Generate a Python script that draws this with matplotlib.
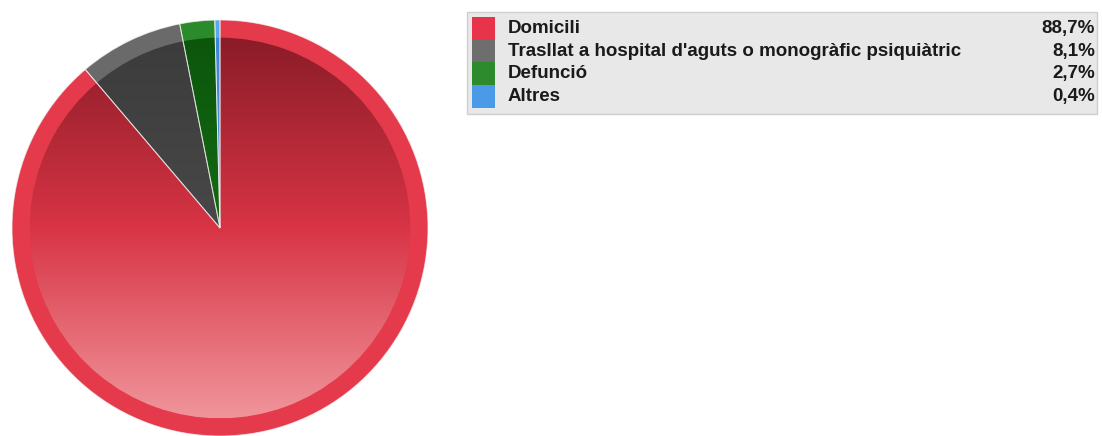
import numpy as np
import matplotlib.pyplot as plt
from matplotlib.patches import Wedge, Rectangle
from matplotlib.colors import LinearSegmentedColormap

# Data
labels = ['Domicili',
          "Trasllat a hospital d'aguts o monogràfic psiquiàtric",
          'Defunció',
          'Altres']
values = [88.7, 8.1, 2.7, 0.4]
pct_labels = ['88,7%', '8,1%', '2,7%', '0,4%']

# Colours: flat rim colour and inner gradient (top -> bottom)
rim_colors = ['#e43a4b', '#6a6a6a', '#2b8a2b', '#5aa8f0']
grad_colors = [['#8a1c28', '#d83445', '#f0959b'],
               ['#3c3c3c', '#484848', '#5c5c5c'],
               ['#0c560c', '#146a14', '#1f7f1f'],
               ['#3f86d8', '#4a96e4', '#60aaf0']]
legend_colors = ['#e8344a', '#6e6e6e', '#2d8a2d', '#4a9ae8']

W, H = 1102, 436
fig = plt.figure(figsize=(W / 100, H / 100), dpi=100)

# Pie (outer rim in flat colours)
cx, cy, R = 220, 228, 208
ax = fig.add_axes([(cx - R) / W, (H - cy - R) / H, 2 * R / W, 2 * R / H])
wedges, _ = ax.pie(values, colors=rim_colors, startangle=90,
                   counterclock=False, radius=1.0,
                   wedgeprops=dict(linewidth=0))

# Inner part with a vertical gradient (dark at top, light at bottom)
r_in = 0.915
grad = np.linspace(0, 1, 256).reshape(-1, 1)
for w, cols in zip(wedges, grad_colors):
    cmap = LinearSegmentedColormap.from_list('g', cols)
    clip = Wedge((0, 0), r_in, w.theta1, w.theta2, transform=ax.transData,
                 facecolor='none', edgecolor='none')
    ax.add_patch(clip)
    im = ax.imshow(grad, cmap=cmap, extent=(-r_in, r_in, -r_in, r_in),
                   origin='upper', aspect='auto', zorder=1)
    im.set_clip_path(clip)
    # thin light separators
    ax.add_patch(Wedge((0, 0), 1.0, w.theta1, w.theta2, facecolor='none',
                       edgecolor='#f2f2f2', linewidth=0.7, alpha=0.7,
                       zorder=2))
ax.set_xlim(-1, 1)
ax.set_ylim(-1, 1)
ax.set_aspect('equal')
ax.axis('off')

# Legend drawn in pixel coordinates
lg = fig.add_axes([0, 0, 1, 1])
lg.set_xlim(0, W)
lg.set_ylim(H, 0)
lg.axis('off')
lg.add_patch(Rectangle((467, 12), 630, 102, facecolor='#e8e8e8',
                       edgecolor='#cfcfcf', linewidth=1))
row_h = 22.75
for i, (lab, pct, col) in enumerate(zip(labels, pct_labels, legend_colors)):
    y0 = 17 + i * row_h
    lg.add_patch(Rectangle((472, y0), 23, row_h, facecolor=col,
                           edgecolor='none'))
    yc = y0 + row_h / 2
    lg.text(508, yc, lab, fontsize=13.5, fontweight='bold',
            family='Liberation Sans', color='#1a1a1a', va='center', ha='left')
    lg.text(1095, yc, pct, fontsize=13.5, fontweight='bold',
            family='Liberation Sans', color='#1a1a1a', va='center', ha='right')

fig.savefig('out.png', dpi=100)
